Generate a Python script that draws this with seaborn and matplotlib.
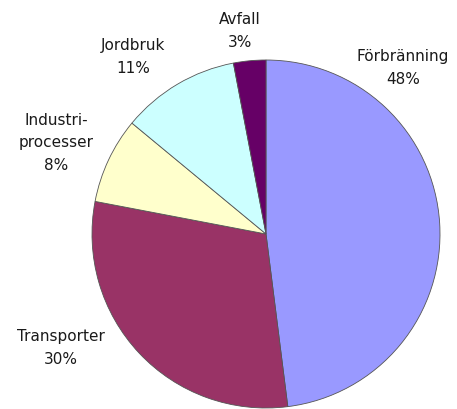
import matplotlib
matplotlib.use("Agg")
import matplotlib.pyplot as plt
import seaborn as sns

# Source shares of emissions (percent)
categories = ["Förbränning", "Transporter", "Industri-\nprocesser", "Jordbruk", "Avfall"]
values = [48, 30, 8, 11, 3]
colors = ["#9999FF", "#993366", "#FFFFCC", "#CCFFFF", "#660066"]

# Label block centres in pixels (x from left, y from top)
label_pos = [(403, 68), (61, 348), (56, 143), (133, 57), (240, 31)]

sns.set_style("white")
plt.rcParams["font.family"] = ["DejaVu Sans"]

W, H = 457, 410
fig = plt.figure(figsize=(W / 100, H / 100), dpi=100)
fig.patch.set_facecolor("white")

cx, cy, r = 266, 235, 174
ax = fig.add_axes([(cx - r) / W, (H - cy - r) / H, 2 * r / W, 2 * r / H])

ax.pie(values, colors=colors, startangle=90, counterclock=False,
       wedgeprops=dict(edgecolor="#555555", linewidth=0.6))
ax.set_xlim(-1, 1)
ax.set_ylim(-1, 1)
ax.set_aspect("equal")
ax.axis("off")

for name, val, (px, py) in zip(categories, values, label_pos):
    fig.text(px / W, 1 - py / H, f"{name}\n{val}%", ha="center", va="center",
             fontsize=11, linespacing=1.6, color="#1a1a1a")

fig.savefig("out.png", dpi=100, facecolor="white")
